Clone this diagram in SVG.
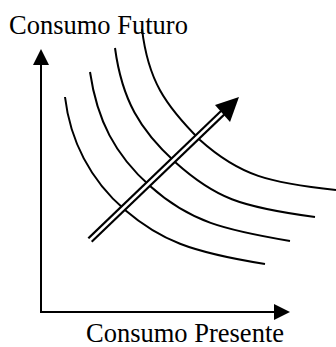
<svg xmlns="http://www.w3.org/2000/svg" width="336" height="347" viewBox="0 0 336 347">
<style>
.lbl{font-family:"Liberation Serif","Times New Roman",serif;font-size:26.5px;fill:#000}
.ax{stroke:#000;stroke-width:2;fill:none}
.cv{stroke:#000;stroke-width:2;fill:none}
</style>
<rect width="336" height="347" fill="#fff"/>
<g id="axes">
<line class="ax" x1="41" y1="313" x2="41" y2="62"/>
<polygon points="41,49 33,65 49,65" fill="#000"/>
<line class="ax" x1="40" y1="312" x2="277" y2="312"/>
<polygon points="290,312 274,304 274,320" fill="#000"/>
</g>
<g id="curves">
<path id="c1" class="cv" d="M65,97 C70,140 90,180 125,210 C160,240 190,252 265,264"/>
<path id="c2" class="cv" d="M90,72 C97,120 115,155 150,186 C190,222 225,230 290,241"/>
<path id="c3" class="cv" d="M115,48 C122,100 140,130 175,162 C215,198 240,207 315,217"/>
<path id="c4" class="cv" d="M142,29 C148,80 165,105 200,140 C240,176 270,183 336,190"/>
</g>
<g id="shift-arrow">
<line x1="90" y1="240" x2="224" y2="111.5" stroke="#000" stroke-width="7"/>
<line x1="88" y1="242" x2="226" y2="109.5" stroke="#fff" stroke-width="2.5"/>
<polygon points="239,97 215,105 230,122" fill="#000"/>
</g>
<text class="lbl" x="9" y="34">Consumo Futuro</text>
<text class="lbl" x="86" y="342">Consumo Presente</text>
</svg>
